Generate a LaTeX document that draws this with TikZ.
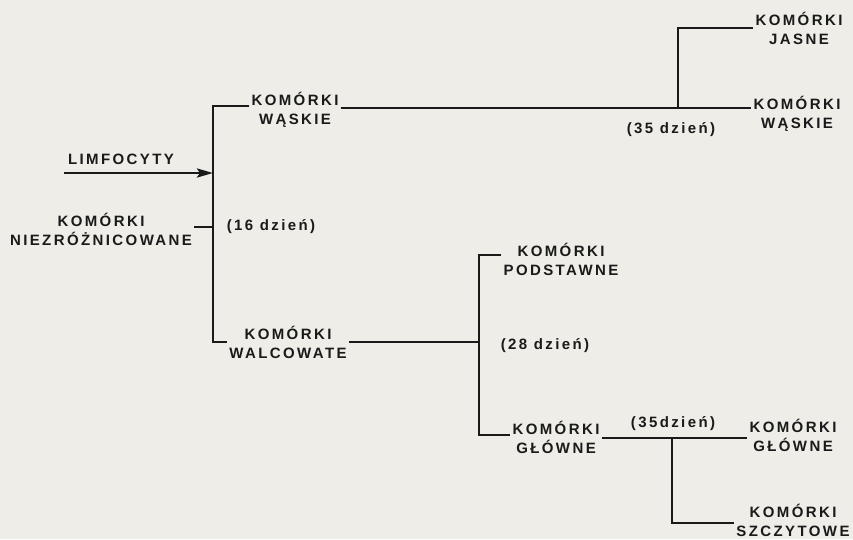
\documentclass[tikz,border=0pt]{standalone}
\usepackage{fontspec}
\setmainfont{Liberation Sans}[LetterSpace=16]
\usetikzlibrary{arrows.meta}
\definecolor{paper}{HTML}{EEEDE8}
\definecolor{ink}{HTML}{1A1A1A}
\tikzset{
  lbl/.style={text=ink, font=\fontsize{15}{19}\selectfont\bfseries, align=center, inner sep=2pt},
  days/.style={text=ink, font=\fontsize{15}{19}\selectfont\bfseries, inner sep=1pt},
  conn/.style={draw=ink, line width=2.8pt, line cap=butt, line join=miter},
}
\begin{document}
\begin{tikzpicture}[x=1pt,y=-1pt]
\useasboundingbox (0,0) rectangle (853,539);
\fill[paper] (0,0) rectangle (853,539);

% labels
\node[lbl] (limf) at (121,159) {LIMFOCYTY};
\node[lbl] (ni) at (101,229) {KOMÓRKI\\NIEZRÓŻNICOWANE};
\node[lbl] (wa1) at (295,110) {KOMÓRKI\\WĄSKIE};
\node[days] (d16) at (271,227) {(16 dzień)};
\node[lbl] (wl) at (288,342) {KOMÓRKI\\WALCOWATE};
\node[lbl] (ja) at (799,28) {KOMÓRKI\\JASNE};
\node[lbl] (wa2) at (797,114) {KOMÓRKI\\WĄSKIE};
\node[days] (d35a) at (671,130) {(35 dzień)};
\node[lbl] (po) at (561,259) {KOMÓRKI\\PODSTAWNE};
\node[days] (d28) at (545,346) {(28 dzień)};
\node[lbl] (gl1) at (556,437) {KOMÓRKI\\GŁÓWNE};
\node[days] (d35b) at (673,424) {(35dzień)};
\node[lbl] (gl2) at (793,435) {KOMÓRKI\\GŁÓWNE};
\node[lbl] (sz) at (793,520) {KOMÓRKI\\SZCZYTOWE};

% junctions
\coordinate (jL) at (213,227);
\coordinate (lstart) at (64,173);
\coordinate (jA) at (213,173);
\coordinate (jW) at (678,108);
\coordinate (jP) at (479,342);
\coordinate (jG) at (672,438);

% connectors
\draw[conn] (wa1.west |- 0,106) -| (jL) |- (wl.west);
\draw[conn] (ni.east |- jL) -- (jL);
\draw[conn, -{Stealth[length=16pt,width=9pt,inset=3pt]}] (lstart) -- (jA);
\draw[conn] (wa1.east |- jW) -- (jW) -- (jW -| wa2.west);
\draw[conn] (jW) |- (ja.west);
\draw[conn] (wl.east) -- (jP);
\draw[conn] (po.west |- 0,255) -| (jP) |- (gl1.west |- 0,435);
\draw[conn] (gl1.east |- jG) -- (jG) -- (jG -| gl2.west);
\draw[conn] (jG) |- (sz.west |- 0,523);
\end{tikzpicture}
\end{document}
